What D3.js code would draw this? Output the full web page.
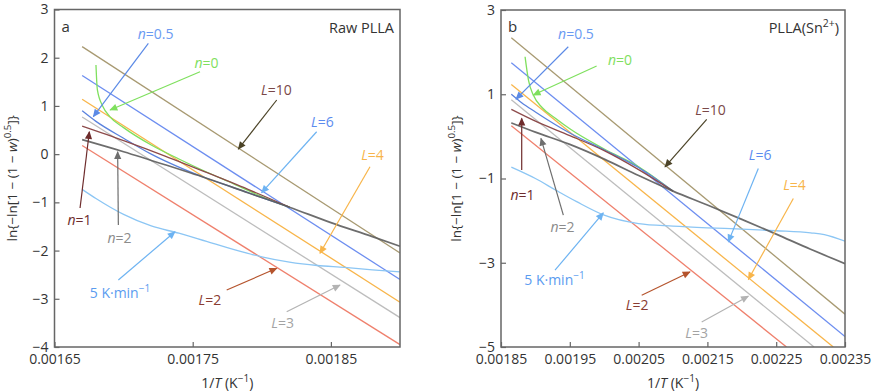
<!DOCTYPE html>
<html>
<head>
<meta charset="utf-8">
<script src="https://cdn.jsdelivr.net/npm/d3@7"></script>
<style>
body { margin: 0; background: #fff; }
svg { display: block; }
text { font-family: "Open Sans", sans-serif; }
</style>
</head>
<body>
<svg id="chart" width="881" height="392"></svg>
<script>
'use strict';

// ---- panel a : Raw PLLA ----
const aDomainX = [0.00165, 0.0019];
const aDomainY = [-4, 3];
const aTicksX = [0.00165, 0.00175, 0.00185];
const aTicksY = [3, 2, 1, 0, -1, -2, -3, -4];
const aSeries = [
    { id: 'L10', x: [0.00167, 0.0019], y: [2.23, -2.05] },
    { id: 'L6', x: [0.00167, 0.0019], y: [1.63, -2.60] },
    { id: 'L4', x: [0.00167, 0.0019], y: [1.14, -3.07] },
    { id: 'L3', x: [0.00167, 0.0019], y: [0.77, -3.39] },
    { id: 'L2', x: [0.00167, 0.0019], y: [0.18, -3.95] },
    { id: 'k5', x: [0.00167, 0.00168, 0.0017, 0.00172, 0.00174, 0.00176, 0.00178, 0.0018, 0.00182, 0.00184, 0.00186, 0.00188, 0.0019],
        y: [-0.73, -0.92, -1.25, -1.49, -1.64, -1.81, -1.98, -2.13, -2.24, -2.31, -2.35, -2.40, -2.44] },
    { id: 'n0', x: [0.00168, 0.001681, 0.001685, 0.00169, 0.0017, 0.00172, 0.00174, 0.00176, 0.00178, 0.0018, 0.00182],
        y: [1.85, 1.34, 0.99, 0.78, 0.55, 0.19, -0.10, -0.37, -0.62, -0.88, -1.10] },
    { id: 'n05', x: [0.00167, 0.00168, 0.0017, 0.00172, 0.00174, 0.00176, 0.00178, 0.0018, 0.00182],
        y: [0.90, 0.68, 0.33, 0.0, -0.27, -0.50, -0.70, -0.90, -1.10] },
    { id: 'n1', x: [0.00167, 0.0017, 0.00173, 0.00176, 0.00179, 0.00182],
        y: [0.58, 0.28, -0.04, -0.38, -0.73, -1.10] },
    { id: 'n2', x: [0.00167, 0.0017, 0.00173, 0.00176, 0.00179, 0.00182, 0.00185, 0.00188, 0.0019],
        y: [0.30, 0.05, -0.22, -0.50, -0.80, -1.10, -1.42, -1.71, -1.91] }
];
// label centre (x, y) and arrow tail -> head, in data units
const aNotes = [
    { id: 'n05', at: [0.0017231, 2.49], from: [0.0017179, 2.299], to: [0.0016781, 0.776] },
    { id: 'n0', at: [0.00176, 1.89], from: [0.0017553, 1.710], to: [0.0016902, 0.915] },
    { id: 'L10', at: [0.0018106, 1.33], from: [0.0018108, 1.123], to: [0.001783, 0.106] },
    { id: 'L6', at: [0.0018439, 0.666], from: [0.0018397, 0.465], to: [0.0017999, -0.80] },
    { id: 'L4', at: [0.0018801, -0.018], from: [0.0018783, -0.261], to: [0.0018421, -2.057] },
    { id: 'n1', at: [0.0016681, -1.366], from: [0.0016685, -1.117], to: [0.0016752, 0.465] },
    { id: 'n2', at: [0.001697, -1.74], from: [0.0016962, -1.47], to: [0.0016957, 0.05] },
    { id: 'k5', at: [0.0016974, -2.881], from: [0.0016962, -2.611], to: [0.0017372, -1.609] },
    { id: 'L2', at: [0.0017625, -3.026], from: [0.0017746, -2.818], to: [0.0018108, -2.368] },
    { id: 'L3', at: [0.001815, -3.503], from: [0.001818, -3.268], to: [0.0018566, -2.715] }
];

// ---- panel b : PLLA(Sn2+) ----
const bDomainX = [0.00185, 0.00235];
const bDomainY = [-5, 3];
const bTicksX = [0.00185, 0.00195, 0.00205, 0.00215, 0.00225, 0.00235];
const bTicksY = [3, 1, -1, -3, -5];
const bSeries = [
    { id: 'L10', x: [0.001865, 0.00235], y: [2.34, -4.22] },
    { id: 'L6', x: [0.001865, 0.00235], y: [1.75, -4.75] },
    { id: 'L4', x: [0.001865, 0.002333], y: [1.23, -5] },
    { id: 'L3', x: [0.001865, 0.002305], y: [0.87, -5] },
    { id: 'L2', x: [0.001865, 0.002265], y: [0.25, -5] },
    { id: 'k5', x: [0.001865, 0.0019, 0.00193, 0.00196, 0.002, 0.00205, 0.0021, 0.00215, 0.0022, 0.00225, 0.0023, 0.00232, 0.00235],
        y: [-0.73, -1.0, -1.28, -1.55, -1.87, -2.07, -2.13, -2.17, -2.20, -2.24, -2.29, -2.33, -2.49] },
    { id: 'n0', x: [0.001885, 0.00189, 0.001897, 0.00191, 0.00193, 0.00195, 0.002, 0.00205, 0.0021],
        y: [1.89, 1.33, 0.98, 0.68, 0.42, 0.18, -0.30, -0.72, -1.30] },
    { id: 'n05', x: [0.001865, 0.00188, 0.0019, 0.00195, 0.002, 0.00205, 0.0021],
        y: [1.0, 0.80, 0.58, 0.08, -0.32, -0.74, -1.30] },
    { id: 'n1', x: [0.001865, 0.0019, 0.00195, 0.002, 0.00205, 0.0021],
        y: [0.64, 0.36, 0.02, -0.34, -0.79, -1.30] },
    { id: 'n2', x: [0.001865, 0.0019, 0.00195, 0.002, 0.00205, 0.0021, 0.00215, 0.0022, 0.00225, 0.0023, 0.00235],
        y: [0.32, 0.10, -0.19, -0.54, -0.93, -1.30, -1.63, -1.97, -2.32, -2.68, -3.02] }
];
const bNotes = [
    { id: 'n05', at: [0.001959, 2.43], from: [0.0019478, 2.128], to: [0.0018718, 0.885] },
    { id: 'n0', at: [0.002023, 1.812], from: [0.001989, 1.670], to: [0.0018969, 0.981] },
    { id: 'L10', at: [0.0021545, 0.624], from: [0.002149, 0.403], to: [0.0020884, -0.723] },
    { id: 'L6', at: [0.0022265, -0.445], from: [0.002224, -0.761], to: [0.0021804, -2.505] },
    { id: 'L4', at: [0.0022766, -1.158], from: [0.0022749, -1.474], to: [0.0022095, -3.398] },
    { id: 'n1', at: [0.0018813, -1.395], from: [0.0018801, -0.801], to: [0.0018801, 0.427] },
    { id: 'n2', at: [0.0019394, -2.148], from: [0.0019406, -1.871], to: [0.0019081, -0.048] },
    { id: 'k5', at: [0.0019278, -3.415], from: [0.0019285, -3.177], to: [0.0019987, -1.816] },
    { id: 'L2', at: [0.002048, -4.009], from: [0.0020545, -3.771], to: [0.0021247, -3.218] },
    { id: 'L3', at: [0.0021342, -4.674], from: [0.0021417, -4.406], to: [0.0022095, -3.795] }
];

// label text pieces: [text, style] where style is 'i' italic or 's' superscript
const labelText = {
    L10: [['L', 'i'], ['=10']],
    L6: [['L', 'i'], ['=6']],
    L4: [['L', 'i'], ['=4']],
    L3: [['L', 'i'], ['=3']],
    L2: [['L', 'i'], ['=2']],
    n0: [['n', 'i'], ['=0']],
    n05: [['n', 'i'], ['=0.5']],
    n1: [['n', 'i'], ['=1']],
    n2: [['n', 'i'], ['=2']],
    k5: [['5 K·min'], ['−1', 's']]
};

const lineColor = {
    L10: '#a89a72', L6: '#6d8ef0', L4: '#f8b54a', L3: '#bdbdbd', L2: '#ef806d',
    k5: '#8cc6f4', n0: '#7fe05e', n05: '#5b83de', n1: '#8d4b4b', n2: '#5d5d5d'
};
const textColor = {
    L10: '#7a4848', L6: '#5b8bef', L4: '#f8b54a', L3: '#a3a3a3', L2: '#8a3c32',
    k5: '#5b9cf0', n0: '#7fe05e', n05: '#6a9af2', n1: '#6e2c2c', n2: '#8c8c8c'
};
const arrowColor = {
    L10: '#4b4327', L6: '#6db3f2', L4: '#f8b54a', L3: '#b3b3b3', L2: '#b5542d',
    k5: '#6db3f2', n0: '#7fe05e', n05: '#5b8ae6', n1: '#6e2c2c', n2: '#6e6e6e'
};

const svg = d3.select('#chart');
const defs = svg.append('defs');
Object.keys(arrowColor).forEach(k => {
    defs.append('marker')
        .attr('id', 'arr-' + k)
        .attr('viewBox', '0 -5 10 10')
        .attr('refX', 9)
        .attr('refY', 0)
        .attr('markerUnits', 'userSpaceOnUse')
        .attr('markerWidth', 9)
        .attr('markerHeight', 8)
        .attr('orient', 'auto')
        .append('path')
        .attr('d', 'M0,-4.5L10,0L0,4.5Z')
        .attr('fill', arrowColor[k]);
});

function richText(sel, parts, size) {
    let raised = false;
    parts.forEach(p => {
        const t = sel.append('tspan').text(p[0]);
        if (p[1] === 'i') t.attr('font-style', 'italic');
        if (p[1] === 's') {
            t.attr('font-size', size * 0.72).attr('dy', -size * 0.42);
            raised = true;
        } else if (raised) {
            t.attr('dy', size * 0.42);
            raised = false;
        }
    });
}

function panel(opt) {
    const x = d3.scaleLinear().domain(opt.domainX).range([opt.left, opt.right]);
    const y = d3.scaleLinear().domain(opt.domainY).range([opt.bottom, opt.top]);
    const g = svg.append('g');

    g.append('defs').append('clipPath').attr('id', opt.clip)
        .append('rect')
        .attr('x', opt.left).attr('y', opt.top)
        .attr('width', opt.right - opt.left).attr('height', opt.bottom - opt.top);

    const line = d3.line().x(d => x(d[0])).y(d => y(d[1])).curve(d3.curveMonotoneX);

    g.append('g')
        .attr('clip-path', `url(#${opt.clip})`)
        .attr('fill', 'none')
        .selectAll('path')
        .data(opt.series)
        .join('path')
        .attr('d', s => line(d3.zip(s.x, s.y)))
        .attr('stroke', s => lineColor[s.id])
        .attr('stroke-width', s => s.id === 'n2' ? 1.7 : 1.3)
        .attr('stroke-opacity', s => s.id === 'n2' ? 0.9 : 1);

    // axes, ticks pointing inward
    const xAxis = g.append('g')
        .attr('transform', `translate(0,${opt.bottom})`)
        .call(d3.axisBottom(x).tickValues(opt.ticksX).tickFormat(d3.format('.5f')).tickSizeInner(-5).tickSizeOuter(0).tickPadding(7));
    const yAxis = g.append('g')
        .attr('transform', `translate(${opt.left},0)`)
        .call(d3.axisLeft(y).tickValues(opt.ticksY).tickFormat(d => d < 0 ? '−' + Math.abs(d) : d).tickSizeInner(-5).tickSizeOuter(0).tickPadding(6));
    [xAxis, yAxis].forEach(a => {
        a.select('.domain').remove();
        a.selectAll('line').attr('stroke', '#666').attr('stroke-width', 1.2);
        a.selectAll('text').attr('fill', '#333').attr('font-size', 14).attr('font-family', '"Open Sans", sans-serif');
    });

    g.append('rect')
        .attr('x', opt.left).attr('y', opt.top)
        .attr('width', opt.right - opt.left).attr('height', opt.bottom - opt.top)
        .attr('fill', 'none').attr('stroke', '#666').attr('stroke-width', 1.5);

    // annotations
    const notes = g.append('g');
    notes.selectAll('line')
        .data(opt.notes)
        .join('line')
        .attr('x1', d => x(d.from[0])).attr('y1', d => y(d.from[1]))
        .attr('x2', d => x(d.to[0])).attr('y2', d => y(d.to[1]))
        .attr('stroke', d => arrowColor[d.id])
        .attr('stroke-width', 1.2)
        .attr('marker-end', d => `url(#arr-${d.id})`);
    notes.selectAll('text')
        .data(opt.notes)
        .join('text')
        .attr('x', d => x(d.at[0]))
        .attr('y', d => y(d.at[1]))
        .attr('dy', '0.36em')
        .attr('text-anchor', 'middle')
        .attr('font-size', 14)
        .attr('fill', d => textColor[d.id])
        .each(function (d) { richText(d3.select(this), labelText[d.id], 14); });

    // panel letter and title
    g.append('text')
        .attr('x', opt.left + 7).attr('y', opt.top + 22)
        .attr('font-size', 15).attr('fill', '#333')
        .text(opt.letter);
    const title = g.append('text')
        .attr('x', opt.right - 6).attr('y', opt.top + 23)
        .attr('text-anchor', 'end')
        .attr('font-size', 14.5).attr('fill', '#333');
    richText(title, opt.title, 14.5);

    // axis titles
    const xt = g.append('text')
        .attr('x', (opt.left + opt.right) / 2).attr('y', 388)
        .attr('text-anchor', 'middle')
        .attr('font-size', 14).attr('fill', '#333');
    richText(xt, [['1/'], ['T', 'i'], [' (K'], ['−1', 's'], [')']], 14);

    const yt = g.append('text')
        .attr('transform', `translate(${opt.left - opt.yTitleGap},${(opt.top + opt.bottom) / 2}) rotate(-90)`)
        .attr('text-anchor', 'middle')
        .attr('font-size', 13.5).attr('fill', '#333');
    richText(yt, [['ln{−ln[1 − (1 − '], ['w', 'i'], [')'], ['0.5', 's'], [']}']], 13.5);
}

panel({
    left: 54.5, right: 400, top: 9.5, bottom: 347, clip: 'clip-a', yTitleGap: 38,
    domainX: aDomainX, domainY: aDomainY, ticksX: aTicksX, ticksY: aTicksY,
    series: aSeries, notes: aNotes, letter: 'a', title: [['Raw PLLA']]
});
panel({
    left: 501, right: 845, top: 10, bottom: 347, clip: 'clip-b', yTitleGap: 40,
    domainX: bDomainX, domainY: bDomainY, ticksX: bTicksX, ticksY: bTicksY,
    series: bSeries, notes: bNotes, letter: 'b', title: [['PLLA(Sn'], ['2+', 's'], [')']]
});
</script>
</body>
</html>
